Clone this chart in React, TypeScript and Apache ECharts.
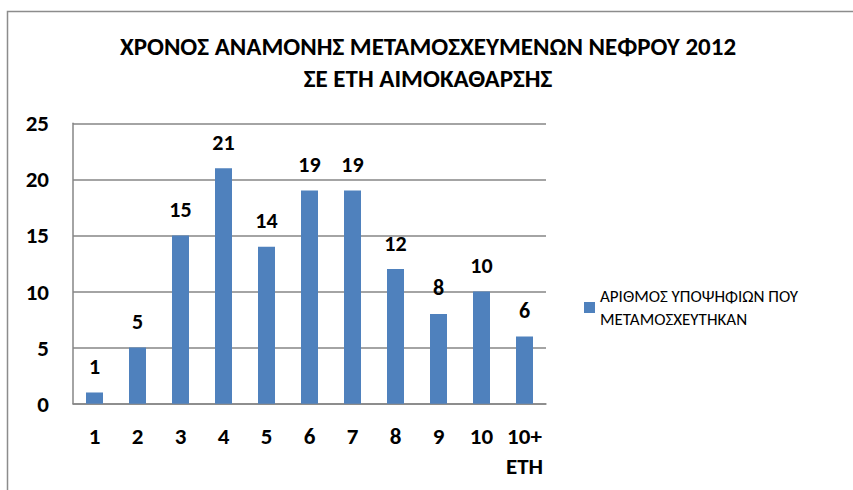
import React, { useEffect, useRef } from "react";
import * as echarts from "echarts";

const categories = ["1", "2", "3", "4", "5", "6", "7", "8", "9", "10", "10+\nΕΤΗ"];
const transplants = [1, 5, 15, 21, 14, 19, 19, 12, 8, 10, 6];
const seriesName = "ΑΡΙΘΜΟΣ ΥΠΟΨΗΦΙΩΝ ΠΟΥ ΜΕΤΑΜΟΣΧΕΥΤΗΚΑΝ";
const legendLines = ["ΑΡΙΘΜΟΣ ΥΠΟΨΗΦΙΩΝ ΠΟΥ", "ΜΕΤΑΜΟΣΧΕΥΤΗΚΑΝ"];
const titleLines = ["ΧΡΟΝΟΣ ΑΝΑΜΟΝΗΣ ΜΕΤΑΜΟΣΧΕΥΜΕΝΩΝ ΝΕΦΡΟΥ 2012", "ΣΕ ΕΤΗ ΑΙΜΟΚΑΘΑΡΣΗΣ"];
const yMin = 0;
const yMax = 25;
const yStep = 5;

const FONT = "Carlito, 'Open Sans', sans-serif";

export default function App() {
  const ref = useRef<HTMLDivElement>(null);
  useEffect(() => {
    if (!ref.current) return;
    const chart = echarts.init(ref.current, null, { renderer: "svg" });
    chart.setOption({
      animation: false,
      backgroundColor: "#ffffff",
      textStyle: { fontFamily: FONT },
      title: {
        text: titleLines.join("\n"),
        left: 428,
        top: 30,
        padding: 0,
        textAlign: "center",
        textStyle: {
          fontFamily: FONT,
          fontSize: 25,
          fontWeight: "bold",
          color: "#000",
          lineHeight: 32,
        },
      },
      graphic: [
        {
          type: "rect",
          shape: { x: 7.5, y: 11.5, width: 1000, height: 1000 },
          style: { fill: "none", stroke: "#8c8c8c", lineWidth: 1.5 },
          silent: true,
        },
      ],
      legend: {
        left: 584,
        top: 267,
        padding: 0,
        orient: "vertical",
        icon: "rect",
        itemWidth: 11,
        itemHeight: 11,
        itemGap: 4,
        data: [seriesName],
        formatter: () => legendLines.join("\n"),
        textStyle: {
          fontFamily: FONT,
          fontSize: 17,
          color: "#000",
          lineHeight: 23,
          padding: [35, 0, 0, 0],
        },
      },
      grid: { left: 73, right: 307, top: 123.3, bottom: 86.3, containLabel: false },
      xAxis: {
        type: "category",
        data: categories,
        axisLine: { show: true, lineStyle: { color: "#868686", width: 1.5 } },
        axisTick: { show: false },
        axisLabel: {
          interval: 0,
          margin: 17,
          fontFamily: FONT,
          fontSize: 23,
          fontWeight: "bold",
          color: "#000",
          lineHeight: 30,
          verticalAlign: "top",
        },
      },
      yAxis: {
        type: "value",
        min: yMin,
        max: yMax,
        interval: yStep,
        axisLine: { show: true, lineStyle: { color: "#868686", width: 1.5 } },
        axisTick: { show: false },
        splitLine: { show: true, lineStyle: { color: "#868686", width: 1.5 } },
        axisLabel: {
          margin: 24,
          fontFamily: FONT,
          fontSize: 23,
          fontWeight: "bold",
          color: "#000",
        },
      },
      series: [
        {
          name: seriesName,
          type: "bar",
          data: transplants,
          barWidth: 17,
          itemStyle: { color: "#4f81bd" },
          label: {
            show: true,
            position: "top",
            distance: 15,
            lineHeight: 22,
            fontFamily: FONT,
            fontSize: 22,
            fontWeight: "bold",
            color: "#000",
          },
        },
      ],
    });
    return () => chart.dispose();
  }, []);
  return (
    <div
      ref={ref}
      style={{ position: "fixed", left: 0, top: 0, width: 853, height: 490 }}
    />
  );
}
